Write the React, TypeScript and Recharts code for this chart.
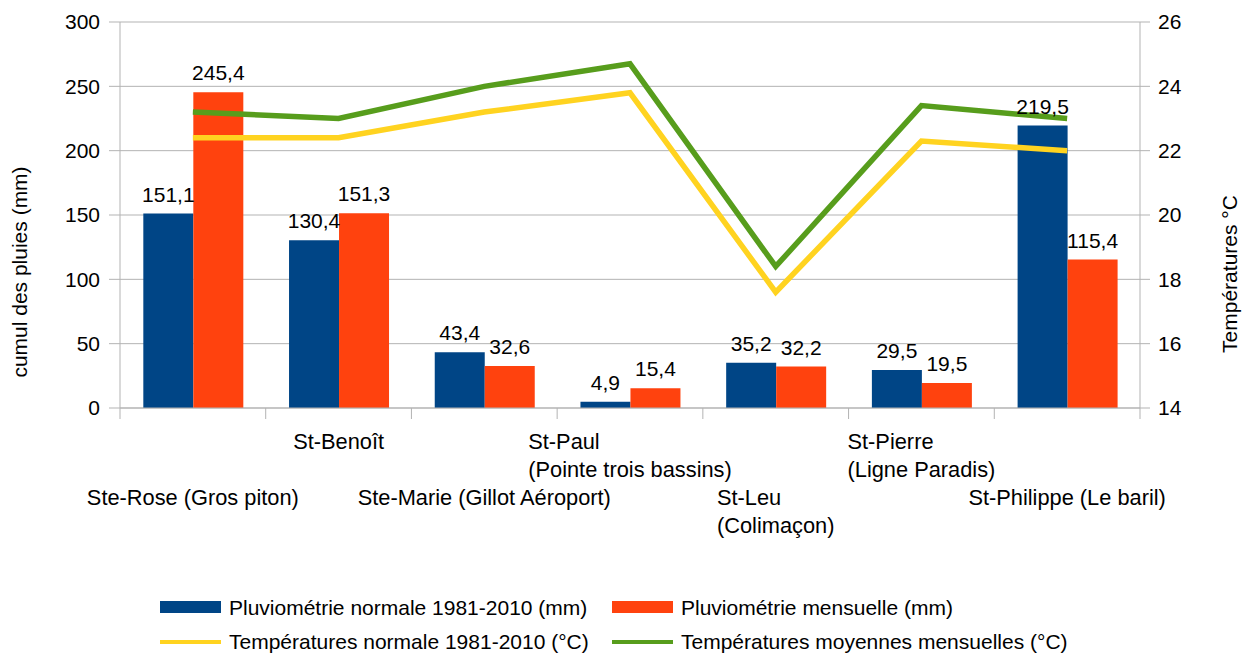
import React from 'react';
import { ComposedChart, Bar, Line, XAxis, YAxis, CartesianGrid, Legend, LabelList, Label } from 'recharts';

const stations = [
  'Ste-Rose (Gros piton)',
  'St-Benoît',
  'Ste-Marie (Gillot Aéroport)',
  'St-Paul\n(Pointe trois bassins)',
  'St-Leu\n(Colimaçon)',
  'St-Pierre\n(Ligne Paradis)',
  'St-Philippe (Le baril)',
];
const rainNormal = [151.1, 130.4, 43.4, 4.9, 35.2, 29.5, 219.5];
const rainMonth = [245.4, 151.3, 32.6, 15.4, 32.2, 19.5, 115.4];
const tempNormal = [22.4, 22.4, 23.2, 23.8, 17.6, 22.3, 22.0];
const tempMonth = [23.2, 23.0, 24.0, 24.7, 18.4, 23.4, 23.0];
const rainTicks = [0, 50, 100, 150, 200, 250, 300];
const tempTicks = [14, 16, 18, 20, 22, 24, 26];

const seriesNames = [
  'Pluviométrie normale 1981-2010 (mm)',
  'Pluviométrie mensuelle (mm)',
  'Températures normale 1981-2010 (°C)',
  'Températures moyennes mensuelles (°C)',
];
const leftTitle = 'cumul des pluies (mm)';
const rightTitle = 'Températures °C';

const BLUE = '#004586';
const ORANGE = '#ff420e';
const YELLOW = '#ffd320';
const GREEN = '#579d1c';
const GRID = '#b3b3b3';
const FONT = '"Liberation Sans", Arial, sans-serif';
const FS = 21;
const XFS = 21.8;

const data = stations.map((name, i) => ({
  name,
  rainNormal: rainNormal[i],
  rainMonth: rainMonth[i],
  tempNormal: tempNormal[i],
  tempMonth: tempMonth[i],
}));

let ctx: CanvasRenderingContext2D | null = null;
function measure(text: string): number {
  if (!ctx) ctx = document.createElement('canvas').getContext('2d');
  if (!ctx) return text.length * XFS * 0.5;
  ctx.font = `${XFS}px "Liberation Sans"`;
  return ctx.measureText(text).width;
}

const fmt = (v: number) => v.toFixed(1).replace('.', ',');

const BarLabel = (props: any) => {
  const { x, y, width, value } = props;
  return (
    <text x={x + width / 2} y={y - 12} textAnchor="middle" fontSize={FS} fontFamily={FONT} fill="#000">
      {fmt(Number(value))}
    </text>
  );
};

const XTick = (props: any) => {
  const { x, y, payload, index } = props;
  const half = payload && payload.offset ? payload.offset : 1020 / stations.length / 2;
  const lines = String(payload.value).split('\n');
  const lower = index % 2 === 0;
  const base = y + (lower ? 97 : 41);
  const maxW = Math.max(...lines.map(measure));
  const multi = lines.length > 1;
  return (
    <g>
      <line x1={x - half} x2={x - half} y1={y} y2={y + 11} stroke={GRID} strokeWidth={1} />
      {index === stations.length - 1 && (
        <line x1={x + half} x2={x + half} y1={y} y2={y + 11} stroke={GRID} strokeWidth={1} />
      )}
      {lines.map((ln, i) => (
        <text
          key={i}
          x={multi ? x - maxW / 2 : x}
          y={base + i * 28}
          textAnchor={multi ? 'start' : 'middle'}
          fontSize={XFS}
          fontFamily={FONT}
          fill="#000"
        >
          {ln}
        </text>
      ))}
    </g>
  );
};

const LegendContent = () => {
  const colors = [BLUE, ORANGE, YELLOW, GREEN];
  const top = 585;
  return (
    <svg width={1242} height={69} style={{ display: 'block' }}>
      {seriesNames.map((n, i) => {
        const col = i % 2;
        const row = Math.floor(i / 2);
        const sx = col === 0 ? 160 : 612;
        const tx = col === 0 ? 229 : 681;
        const ty = (row === 0 ? 615 : 649) - top;
        return (
          <g key={n}>
            {row === 0 ? (
              <rect x={sx} y={601 - top} width={61} height={12} fill={colors[i]} />
            ) : (
              <rect x={sx} y={640 - top} width={61} height={4} fill={colors[i]} />
            )}
            <text x={tx} y={ty} fontSize={FS} fontFamily={FONT} fill="#000">
              {n}
            </text>
          </g>
        );
      })}
    </svg>
  );
};

export default function App() {
  return (
    <div style={{ position: 'absolute', left: 0, top: 0, width: 1242, height: 654, background: '#fff' }}>
      <ComposedChart
        width={1242}
        height={654}
        data={data}
        margin={{ top: 22, right: 0, bottom: 106, left: 0 }}
        barCategoryGap="16%"
        barGap={0}
      >
        <CartesianGrid yAxisId="left" horizontal vertical={false} stroke={GRID} />
        <XAxis
          dataKey="name"
          height={140}
          interval={0}
          tickSize={0}
          tickMargin={0}
          tickLine={false}
          axisLine={{ stroke: GRID }}
          tick={<XTick />}
        />
        <YAxis
          yAxisId="left"
          width={120}
          domain={[0, 300]}
          ticks={rainTicks}
          interval={0}
          tickSize={11}
          tickMargin={9}
          axisLine={{ stroke: GRID }}
          tickLine={{ stroke: GRID }}
          tick={{ fontSize: FS, fill: '#000', fontFamily: FONT }}
        >
          <Label
            content={() => (
              <text
                x={27}
                y={272}
                transform="rotate(-90, 27, 272)"
                textAnchor="middle"
                fontSize={FS}
                fontFamily={FONT}
                fill="#000"
              >
                {leftTitle}
              </text>
            )}
          />
        </YAxis>
        <YAxis
          yAxisId="right"
          orientation="right"
          width={102}
          domain={[14, 26]}
          ticks={tempTicks}
          interval={0}
          tickSize={10}
          tickMargin={8}
          axisLine={{ stroke: GRID }}
          tickLine={{ stroke: GRID }}
          tick={{ fontSize: FS, fill: '#000', fontFamily: FONT }}
        >
          <Label
            content={() => (
              <text
                x={1237}
                y={274}
                transform="rotate(-90, 1237, 274)"
                textAnchor="middle"
                fontSize={FS}
                fontFamily={FONT}
                fill="#000"
              >
                {rightTitle}
              </text>
            )}
          />
        </YAxis>
        <Bar yAxisId="left" dataKey="rainNormal" name={seriesNames[0]} fill={BLUE} isAnimationActive={false}>
          <LabelList dataKey="rainNormal" content={<BarLabel />} />
        </Bar>
        <Bar yAxisId="left" dataKey="rainMonth" name={seriesNames[1]} fill={ORANGE} isAnimationActive={false}>
          <LabelList dataKey="rainMonth" content={<BarLabel />} />
        </Bar>
        <Line
          yAxisId="right"
          type="linear"
          dataKey="tempNormal"
          name={seriesNames[2]}
          stroke={YELLOW}
          strokeWidth={5.5}
          dot={false}
          activeDot={false}
          isAnimationActive={false}
        />
        <Line
          yAxisId="right"
          type="linear"
          dataKey="tempMonth"
          name={seriesNames[3]}
          stroke={GREEN}
          strokeWidth={5.5}
          dot={false}
          activeDot={false}
          isAnimationActive={false}
        />
        <Legend
          layout="horizontal"
          verticalAlign="middle"
          align="center"
          content={<LegendContent />}
          wrapperStyle={{ top: 585, left: 0, width: 1242, height: 69 }}
        />
      </ComposedChart>
    </div>
  );
}
